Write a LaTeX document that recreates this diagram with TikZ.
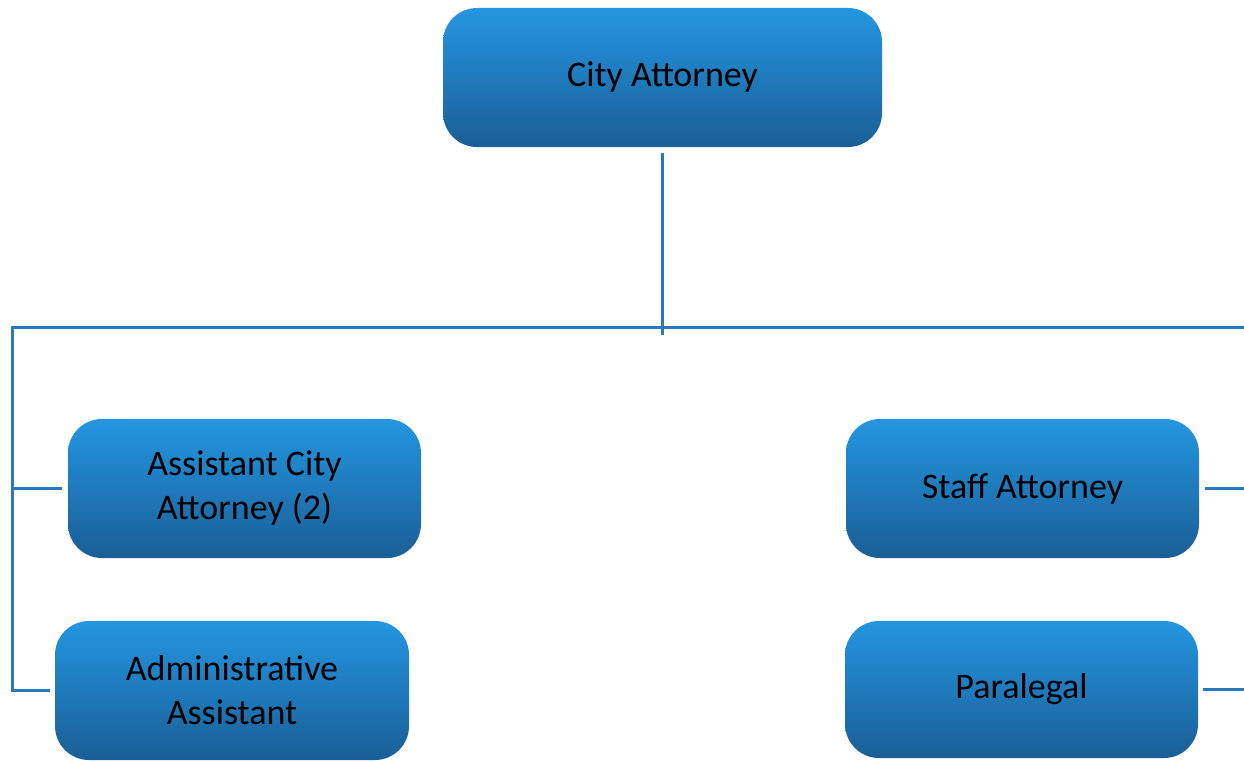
\documentclass[tikz,border=0pt]{standalone}
\usepackage{fontspec}
\setmainfont{Carlito}
\definecolor{boxtop}{RGB}{36,150,225}
\definecolor{boxbot}{RGB}{26,94,150}
\definecolor{linecol}{RGB}{42,120,190}
\tikzset{
  orgbox/.style={draw=none, rounded corners=34pt, top color=boxtop, bottom color=boxbot,
    minimum height=139pt, inner sep=0pt, align=center, text=black,
    font=\fontsize{36}{44}\selectfont},
  conn/.style={draw=linecol, line width=3pt}
}
\begin{document}
\begin{tikzpicture}[x=1pt,y=-1pt]
\useasboundingbox (0,0) rectangle (1244,760);
\node[orgbox, minimum width=439pt] (ca) at (662.5,77.5) {City Attorney};
\node[orgbox, minimum width=353pt] (aca) at (244.5,488.5) {Assistant City\\Attorney (2)};
\node[orgbox, minimum width=354pt] (aa) at (232,690.5) {Administrative\\Assistant};
\node[orgbox, minimum width=353pt] (sa) at (1022.5,488.5) {Staff Attorney};
\node[orgbox, minimum width=353pt, minimum height=137pt] (pl) at (1021.5,689.5) {Paralegal};
\coordinate (hl) at (12,327);
\coordinate (hr) at (1246,327);
\coordinate (hm) at (662,335);
\draw[conn] ([yshift=-6pt]ca.south) -- (ca.south |- hm);
\draw[conn] (hr) -- (hl) -- (hl |- aa.west) -- ([xshift=-5pt]aa.west);
\draw[conn] (hl |- aca.west) -- ([xshift=-6pt]aca.west);
\draw[conn] ([xshift=6pt]sa.east) -- (sa.east -| hr);
\draw[conn] ([xshift=5pt]pl.east) -- (pl.east -| hr);
\end{tikzpicture}
\end{document}
